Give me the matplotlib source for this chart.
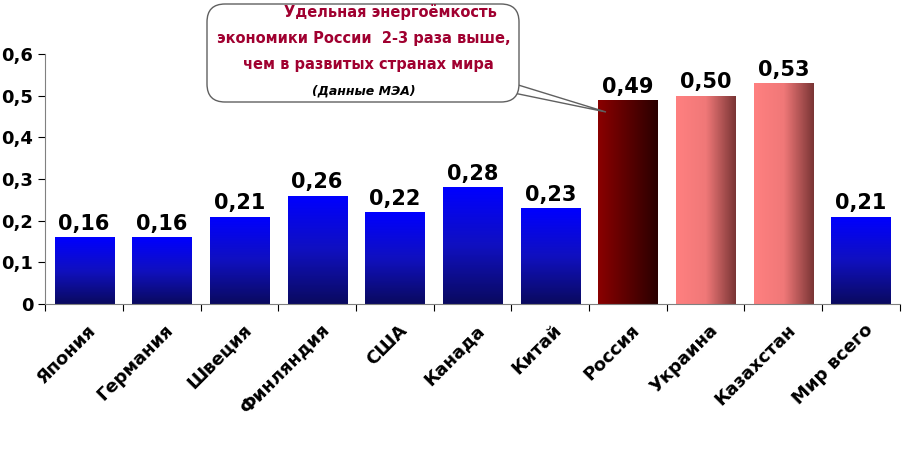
import matplotlib
matplotlib.use("Agg")
import matplotlib.pyplot as plt
import numpy as np
from matplotlib.patches import FancyBboxPatch, Polygon
from matplotlib.colors import LinearSegmentedColormap

categories = ["Япония", "Германия", "Швеция", "Финляндия", "США", "Канада", "Китай",
              "Россия", "Украина", "Казахстан", "Мир всего"]
values = [0.16, 0.16, 0.21, 0.26, 0.22, 0.28, 0.23, 0.49, 0.50, 0.53, 0.21]
labels = ["0,16", "0,16", "0,21", "0,26", "0,22", "0,28", "0,23", "0,49", "0,50", "0,53", "0,21"]
kinds = ["b"] * 7 + ["r", "p", "p", "b"]
yticks = [0, 0.1, 0.2, 0.3, 0.4, 0.5, 0.6]
ytick_labels = ["0", "0,1", "0,2", "0,3", "0,4", "0,5", "0,6"]

fig = plt.figure(figsize=(9.22, 4.54), dpi=100)
ax = fig.add_axes([0.049, 0.330, 0.927, 0.551])
x = np.arange(len(categories))
w = 0.76
bars = ax.bar(x, values, width=w, color="none", edgecolor="none")

cmaps = {
    "b": (LinearSegmentedColormap.from_list("b", ["#0a0a60", "#1010c0", "#0000ff"]), "v"),
    "r": (LinearSegmentedColormap.from_list("r", ["#8a0000", "#5a0000", "#2a0000"]), "h"),
    "p": (LinearSegmentedColormap.from_list("p", ["#ff8080", "#f07878", "#7a3535"]), "h"),
}
for b, k in zip(bars, kinds):
    cm, d = cmaps[k]
    g = np.linspace(0, 1, 100)
    img = g.reshape(-1, 1) if d == "v" else g.reshape(1, -1)
    x0, y0, bw, bh = b.get_x(), b.get_y(), b.get_width(), b.get_height()
    im = ax.imshow(img, cmap=cm, extent=[x0, x0 + bw, y0, y0 + bh], origin="lower",
                   aspect="auto", zorder=2)
    im.set_clip_path(b)

for xi, v, l in zip(x, values, labels):
    ax.text(xi, v + 0.008, l, ha="center", va="bottom", fontsize=15, fontweight="bold")

ax.set_xlim(-0.5, len(categories) - 0.5)
ax.set_ylim(0, 0.6)
ax.set_yticks(yticks)
ax.set_yticklabels(ytick_labels, fontsize=13, fontweight="bold")
ax.set_xticks(np.arange(len(categories) + 1) - 0.5, minor=False)
ax.set_xticklabels([])
ax.tick_params(axis="x", length=5, direction="out")
ax.tick_params(axis="y", length=5, direction="out")
for xi, c in zip(x, categories):
    ax.text(xi + 0.2, -0.04, c, rotation=45, ha="right", va="top", fontsize=13,
            fontweight="bold", transform=ax.transData)
for s in ["top", "right"]:
    ax.spines[s].set_visible(False)
ax.spines["left"].set_color("#808080")
ax.spines["bottom"].set_color("#808080")

# callout
tail = Polygon([(470, 370), (515, 370), (606, 342)], closed=True, transform=None,
               facecolor="white", edgecolor="#606060", lw=1, zorder=4)
fig.patches.append(tail)
box = FancyBboxPatch((207, 352), 312, 98, boxstyle="round,pad=0,rounding_size=18",
                     transform=None, facecolor="white", edgecolor="#606060", lw=1,
                     zorder=5)
fig.patches.append(box)
tk = dict(ha="center", fontsize=10.5, fontweight="bold", color="#a00030", zorder=10)
fig.text(0.423, 0.962, "Удельная энергоёмкость", **tk)
fig.text(0.395, 0.905, "экономики России  2-3 раза выше,", **tk)
fig.text(0.400, 0.848, "чем в развитых странах мира", **tk)
fig.text(0.395, 0.792, "(Данные МЭА)", ha="center", fontsize=9, fontweight="bold",
         style="italic", color="black", zorder=10)

fig.savefig("out.png", dpi=100)
